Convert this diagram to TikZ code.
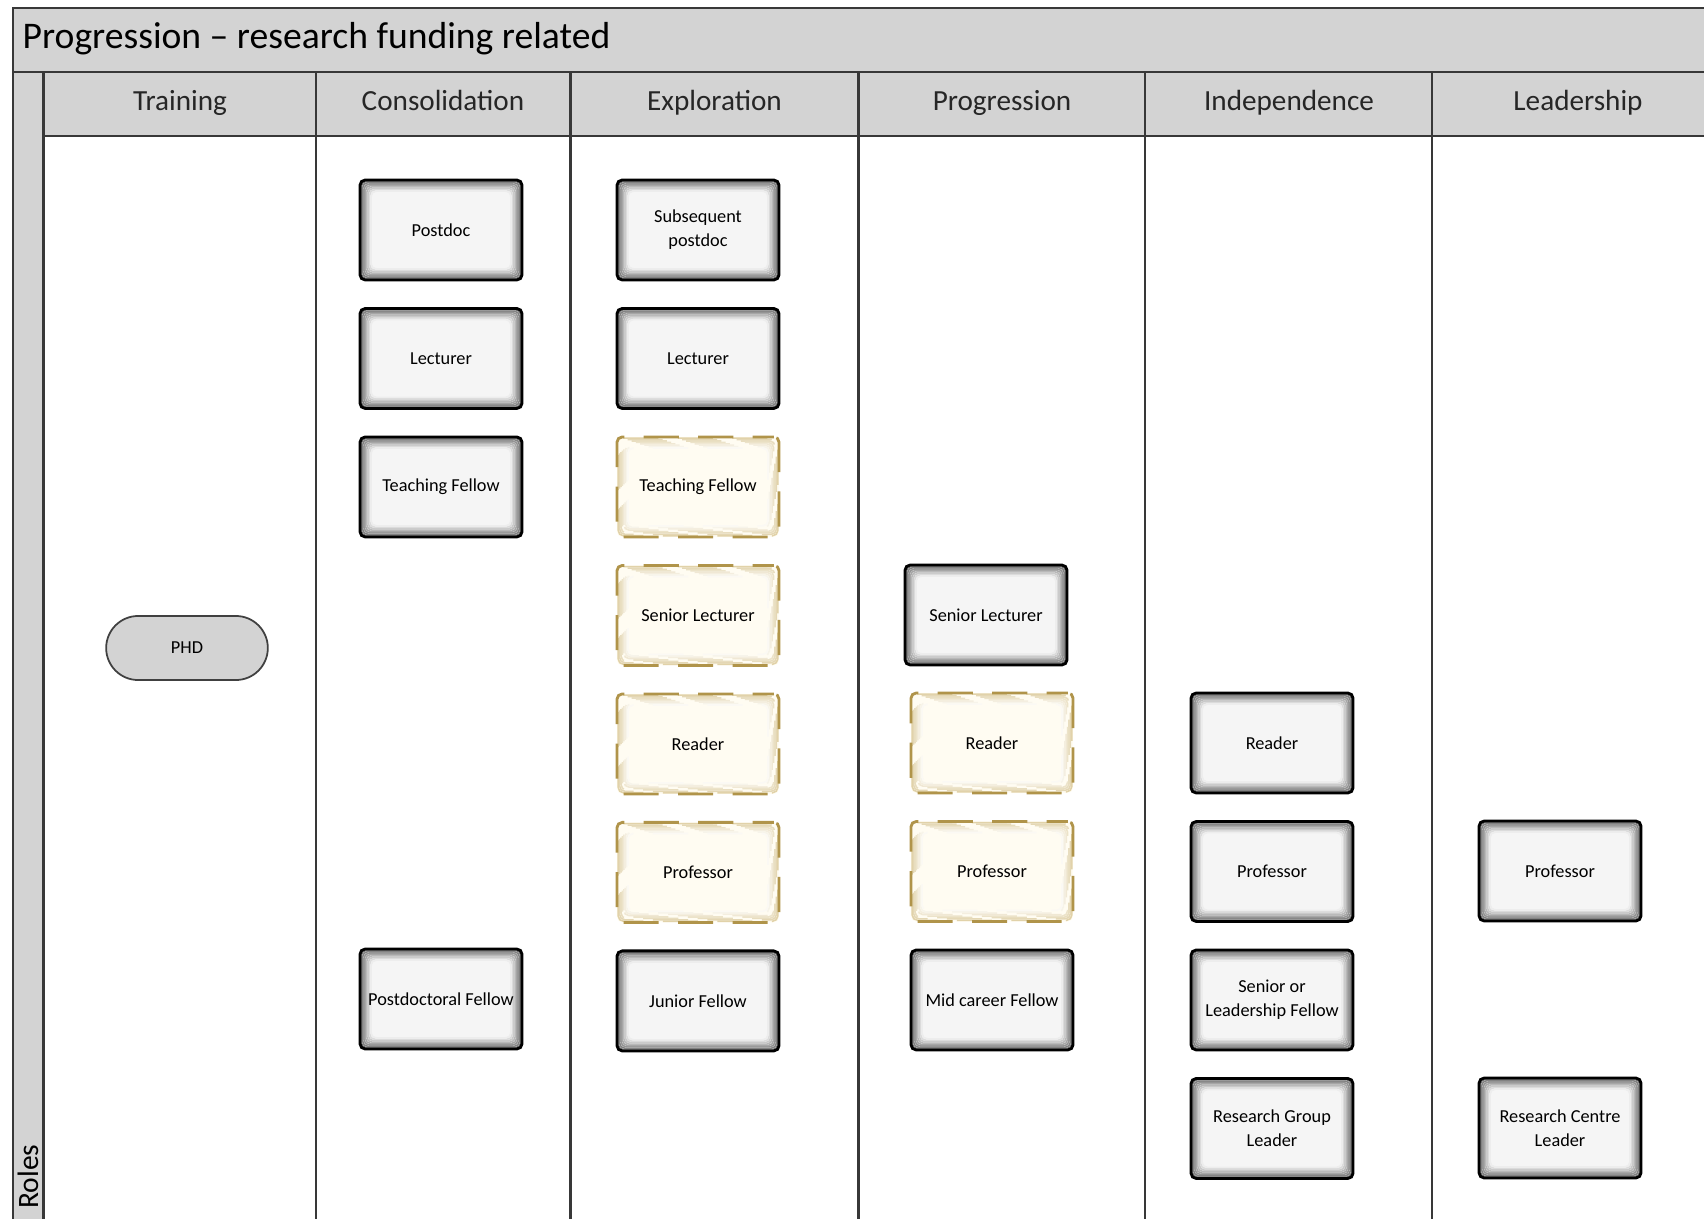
\documentclass[tikz,border=0pt]{standalone}
\usepackage{fontspec}
\setmainfont{Carlito}
\usepackage{xcolor}
\usepackage{tikz}
\usetikzlibrary{shapes,positioning}
\definecolor{bandgray}{HTML}{D3D3D3}
\definecolor{framegray}{HTML}{383838}
\definecolor{creamfill}{HTML}{FFFCF2}
\definecolor{khaki}{HTML}{B0944A}
\definecolor{khakiglow}{HTML}{C9AE66}
% soft inner glow, drawn as nested rectangles
\newcommand{\boxglow}[1]{%
  \foreach \k in {0,...,7}{%
    \pgfmathtruncatemacro{\glowpct}{56-7*\k}%
    \draw[#1!\glowpct!white, line width=0.45pt]
      ([shift={({0.35pt+0.4pt*\k},{0.35pt+0.4pt*\k})}]path picture bounding box.south west) rectangle
      ([shift={({-0.35pt-0.4pt*\k},{-0.35pt-0.4pt*\k})}]path picture bounding box.north east);
  }}
\tikzstyle{role} = [rectangle, draw=black, line width=0.8pt, fill=black!4,
    rounded corners=1.5pt, minimum width=1.62cm, minimum height=1cm,
    inner xsep=0.5pt, align=center, font=\fontsize{5.2}{6.8}\selectfont,
    node distance=0.256cm, path picture={\boxglow{black}}]
\tikzstyle{role_dashed} = [role, draw=khaki, fill=creamfill, line width=0.8pt,
    dash pattern=on 10pt off 5.5pt, dash phase=4pt,
    path picture={\boxglow{khakiglow}}]
\tikzstyle{start} = [rounded rectangle, draw=black!75, line width=0.5pt,
    fill=bandgray, minimum width=1.85cm, minimum height=0.64cm,
    font=\fontsize{5.2}{7}\selectfont]
\tikzstyle{lanehead} = [anchor=base, font=\fontsize{8.3}{10}\selectfont, text=black!85]
\tikzstyle{lane} = [draw, framegray, line width=0.6pt]

\begin{document}
\begin{tikzpicture}[x=0.01cm, y=-0.01cm]
    \useasboundingbox (0,0) rectangle (1704,1219);
    % Bands and lanes
    \fill[bandgray] (13,7.6) rectangle (1704,135.8);
    \fill[bandgray] (13,135.8) rectangle (43.5,1219);
    \path[lane] (1704,7.6) -- (13,7.6) -- (13,1219);
    \path[lane] (13,71.7) -- (1704,71.7);
    \path[lane] (43.5,135.8) -- (1704,135.8);
    \foreach \x in {43.5,316.2,570.5,858.5,1145.4,1432.3}
        \path[lane] (\x,71.7) -- (\x,1219);
    % Titles
    \node [anchor=base west, inner sep=0pt, font=\fontsize{10.7}{13}\selectfont] (title) at (22,49)
        {Progression \textendash{} research funding related};
    \node [lanehead] (htraining) at (180,111) {Training};
    \node [lanehead] (hconsol) at (443,111) {Consolidation};
    \node [lanehead] (hexplore) at (714.5,111) {Exploration};
    \node [lanehead] (hprogress) at (1002,111) {Progression};
    \node [lanehead] (hindep) at (1289,111) {Independence};
    \node [lanehead] (hlead) at (1578,111) {Leadership};
    \node [rotate=90, anchor=west, font=\fontsize{8.4}{10}\selectfont] (roles) at (28,1221) {Roles};
    % Place nodes
    \node [start] (phd) at (187,648) {PHD};

    \node [role] (cpostdoc) at (441,230) {Postdoc};
    \node [role, below=of cpostdoc] (clecturer) {Lecturer};
    \node [role, below=of clecturer] (cteaching) {Teaching Fellow};
    \node [role] (cpdfellow) at (441,999) {Postdoctoral Fellow};

    \node [role] (esubpostdoc) at (698,230) {Subsequent\\postdoc};
    \node [role, below=of esubpostdoc] (electurer) {Lecturer};
    \node [role_dashed, below=of electurer] (eteaching) {Teaching Fellow};
    \node [role_dashed, below=of eteaching] (eseniorlect) {Senior Lecturer};
    \node [role_dashed, below=of eseniorlect] (ereader) {Reader};
    \node [role_dashed, below=of ereader] (eprofessor) {Professor};
    \node [role, below=of eprofessor] (ejuniorfellow) {Junior Fellow};

    \node [role] (pseniorlect) at (986,615) {Senior Lecturer};
    \node [role_dashed] (preader) at (992,743) {Reader};
    \node [role_dashed, below=of preader] (pprofessor) {Professor};
    \node [role, below=of pprofessor] (pmidfellow) {Mid career Fellow};

    \node [role] (ireader) at (1272,743) {Reader};
    \node [role, below=of ireader] (iprofessor) {Professor};
    \node [role, below=of iprofessor] (iseniorfellow) {Senior or\\Leadership Fellow};
    \node [role, below=of iseniorfellow] (igroupleader) {Research Group\\Leader};

    \node [role] (lprofessor) at (1560,871) {Professor};
    \node [role] (lcentreleader) at (1560,1128) {Research Centre\\Leader};
\end{tikzpicture}
\end{document}
